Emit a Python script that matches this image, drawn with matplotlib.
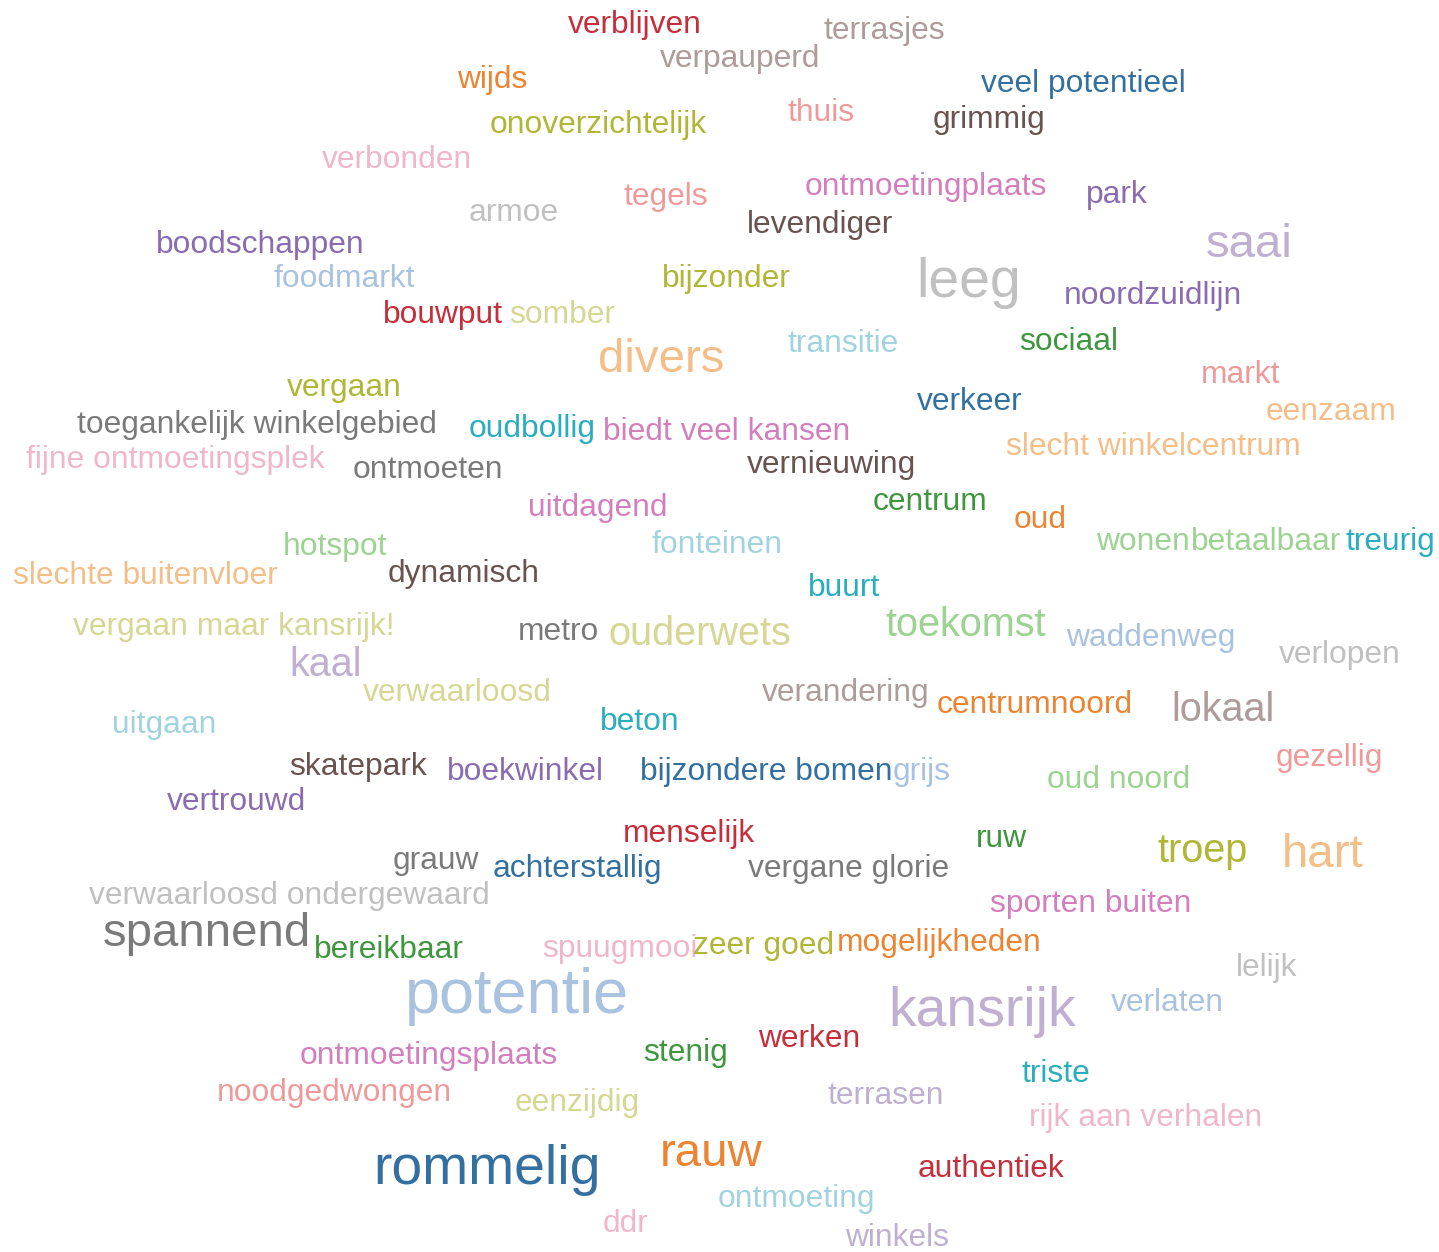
import matplotlib
matplotlib.use('Agg')
from matplotlib import pyplot as plt

# word cloud: words, how often they were named, colour, and where they sit (pixels)
words = ['verblijven', 'terrasjes', 'verpauperd', 'wijds', 'veel potentieel', 'thuis', 'grimmig',
         'onoverzichtelijk', 'verbonden', 'ontmoetingplaats', 'park', 'armoe', 'tegels', 'levendiger',
         'saai', 'boodschappen', 'leeg', 'foodmarkt', 'bijzonder', 'noordzuidlijn', 'bouwput', 'somber',
         'transitie', 'sociaal', 'divers', 'vergaan', 'markt', 'verkeer', 'eenzaam',
         'toegankelijk winkelgebied', 'oudbollig', 'biedt veel kansen', 'slecht winkelcentrum',
         'fijne ontmoetingsplek', 'ontmoeten', 'vernieuwing', 'centrum', 'uitdagend', 'oud', 'wonen',
         'betaalbaar', 'treurig', 'hotspot', 'fonteinen', 'slechte buitenvloer', 'dynamisch', 'buurt',
         'vergaan maar kansrijk!', 'metro', 'ouderwets', 'toekomst', 'waddenweg', 'verlopen', 'kaal',
         'verwaarloosd', 'verandering', 'centrumnoord', 'lokaal', 'uitgaan', 'beton', 'skatepark',
         'boekwinkel', 'bijzondere bomen', 'grijs', 'oud noord', 'gezellig', 'vertrouwd', 'menselijk',
         'ruw', 'troep', 'hart', 'grauw', 'achterstallig', 'vergane glorie', 'verwaarloosd ondergewaard',
         'sporten buiten', 'spannend', 'bereikbaar', 'spuugmooi', 'zeer goed', 'mogelijkheden', 'lelijk',
         'potentie', 'kansrijk', 'verlaten', 'ontmoetingsplaats', 'stenig', 'werken', 'triste',
         'noodgedwongen', 'eenzijdig', 'terrasen', 'rijk aan verhalen', 'rommelig', 'rauw', 'authentiek',
         'ontmoeting', 'ddr', 'winkels']

freq = [1, 1, 1, 1, 1, 1, 1,
        1, 1, 1, 1, 1, 1, 1,
        3, 1, 4, 1, 1, 1, 1, 1,
        1, 1, 3, 1, 1, 1, 1,
        1, 1, 1, 1,
        1, 1, 1, 1, 1, 1, 1,
        1, 1, 1, 1, 1, 1, 1,
        1, 1, 2, 2, 1, 1, 2,
        1, 1, 1, 2, 1, 1, 1,
        1, 1, 1, 1, 1, 1, 1,
        1, 2, 3, 1, 1, 1, 1,
        1, 3, 1, 1, 1, 1, 1,
        5, 4, 1, 1, 1, 1, 1,
        1, 1, 1, 1, 4, 3, 1,
        1, 1, 1]

word_x = [568, 823, 660, 457, 981, 787, 933,
          490, 322, 805, 1086, 469, 624, 747,
          1206, 156, 916, 273, 662, 1064, 383, 509,
          788, 1019, 598, 287, 1201, 917, 1266,
          77, 469, 603, 1006,
          26, 353, 747, 873, 528, 1014, 1096,
          1191, 1346, 283, 652, 13, 388, 808,
          73, 518, 608, 885, 1066, 1279, 289,
          363, 762, 937, 1171, 112, 600, 289,
          447, 640, 893, 1047, 1276, 167, 623,
          976, 1157, 1282, 393, 493, 748, 89,
          990, 103, 314, 542, 693, 837, 1236,
          405, 888, 1111, 300, 643, 758, 1021,
          217, 515, 828, 1029, 373, 660, 918,
          718, 603, 845]

word_y = [33, 39, 67, 88, 92, 121, 128,
          133, 168, 195, 203, 221, 205, 233,
          257, 253, 297, 287, 287, 304, 323, 323,
          352, 350, 372, 396, 383, 410, 420,
          433, 437, 440, 455,
          468, 478, 473, 510, 516, 528, 550,
          550, 550, 555, 553, 584, 582, 596,
          635, 640, 645, 636, 646, 663, 676,
          701, 701, 713, 721, 733, 730, 775,
          780, 780, 780, 788, 766, 810, 842,
          847, 862, 867, 869, 877, 877, 904,
          912, 946, 958, 957, 954, 951, 976,
          1013, 1026, 1011, 1064, 1061, 1047, 1082,
          1101, 1111, 1104, 1126, 1184, 1166, 1177,
          1207, 1232, 1246]

palette = {
    'red': '#c52e3a', 'grey_brown': '#ad9c99', 'orange': '#ec8433', 'blue': '#33709f',
    'salmon': '#ef9a9a', 'brown': '#68534f', 'olive': '#b0b636', 'pink': '#efb6cc',
    'magenta': '#d47fbd', 'purple': '#8a6cb0', 'light_grey': '#c0c0c0', 'lavender': '#bfb0d2',
    'light_blue': '#a9c2e0', 'sand': '#d6d794', 'pale_cyan': '#a1d3de', 'green': '#3f963f',
    'peach': '#f4be88', 'grey': '#7a7a7a', 'cyan': '#2aaebd', 'light_green': '#9cd392',
}

word_color = ['red', 'grey_brown', 'grey_brown', 'orange', 'blue', 'salmon', 'brown',
              'olive', 'pink', 'magenta', 'purple', 'light_grey', 'salmon', 'brown',
              'lavender', 'purple', 'light_grey', 'light_blue', 'olive', 'purple', 'red', 'sand',
              'pale_cyan', 'green', 'peach', 'olive', 'salmon', 'blue', 'peach',
              'grey', 'cyan', 'magenta', 'peach',
              'pink', 'grey', 'brown', 'green', 'magenta', 'orange', 'light_green',
              'light_green', 'cyan', 'light_green', 'pale_cyan', 'peach', 'brown', 'cyan',
              'sand', 'grey', 'sand', 'light_green', 'light_blue', 'light_grey', 'lavender',
              'sand', 'grey_brown', 'orange', 'grey_brown', 'pale_cyan', 'cyan', 'brown',
              'purple', 'blue', 'light_blue', 'light_green', 'salmon', 'purple', 'red',
              'green', 'olive', 'peach', 'grey', 'blue', 'grey', 'light_grey',
              'magenta', 'grey', 'green', 'pink', 'olive', 'orange', 'light_grey',
              'light_blue', 'lavender', 'light_blue', 'magenta', 'green', 'red', 'cyan',
              'salmon', 'sand', 'lavender', 'pink', 'blue', 'orange', 'red',
              'pale_cyan', 'pink', 'lavender']

fig = plt.figure(figsize=(14.39, 12.52), dpi=100)
ax = fig.add_axes([0, 0, 1, 1])
ax.set_xlim(0, 1439)
ax.set_ylim(1252, 0)
ax.axis('off')

for w, f, x, y, c in zip(words, freq, word_x, word_y, word_color):
    px = 24 + 7.8 * f  # font size in pixels grows with frequency
    ax.text(x, y, w, fontsize=px * 0.72, color=palette[c], family='Liberation Sans',
            ha='left', va='baseline')

fig.savefig('out.png', dpi=100, facecolor='white')
